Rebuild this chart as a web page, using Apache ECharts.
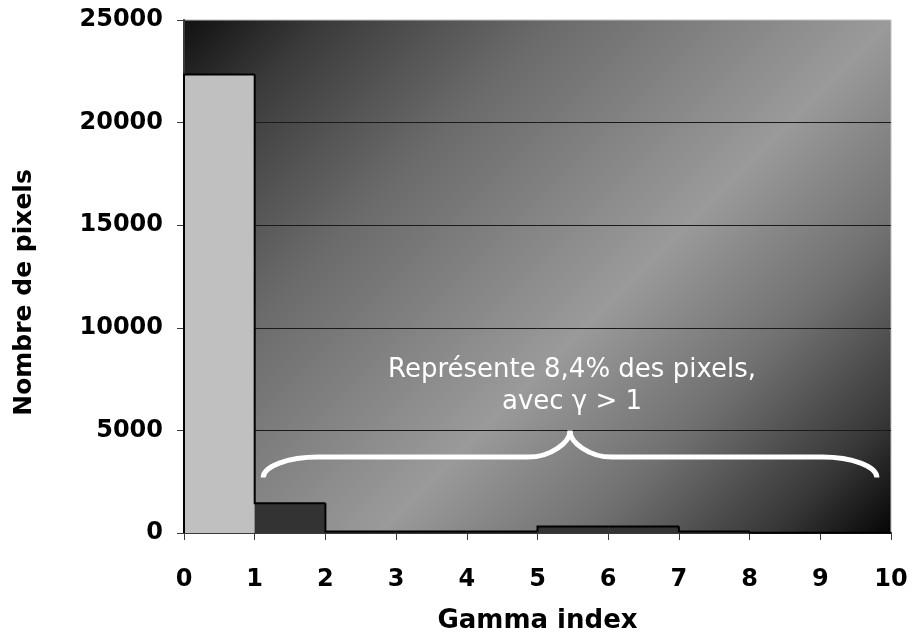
<!DOCTYPE html>
<html>
<head>
<meta charset="utf-8">
<script src="https://cdn.jsdelivr.net/npm/echarts@6/dist/echarts.min.js"></script>
<style>
  html, body { margin: 0; padding: 0; background: #fff; }
  #chart { width: 912px; height: 637px; }
</style>
</head>
<body>
<div id="chart"></div>
<script>
// Histogram of the gamma index: one bin per unit of gamma
const binStart = [0, 1, 2, 3, 4, 5, 6, 7, 8, 9];
const binEnd = [1, 2, 3, 4, 5, 6, 7, 8, 9, 10];
const pixelCount = [22350, 1450, 70, 70, 70, 320, 320, 70, 15, 15];

// Brace spanning the bins with gamma > 1 (data units)
const braceX = [1.12, 9.8];
const braceY = [2700, 3700, 5000];
const braceText = 'Représente 8,4% des pixels,\navec γ > 1';

const bins = binStart.map((s, i) => [s, binEnd[i], pixelCount[i]]);

const chart = echarts.init(document.getElementById('chart'), null, { renderer: 'canvas' });

const axisColor = '#3a3a3a';
const labelFont = { color: '#000', fontSize: 24, fontWeight: 'bold', fontFamily: 'DejaVu Sans' };
const nameFont = { color: '#000', fontSize: 25, fontWeight: 'bold', fontFamily: 'DejaVu Sans' };

chart.setOption({
  animation: false,
  backgroundColor: '#fff',
  grid: {
    left: 184, right: 21, top: 20, bottom: 104,
    outerBoundsMode: 'none',
    containLabel: false,
    show: true,
    borderColor: '#bdbdbd',
    borderWidth: 1,
    backgroundColor: {
      type: 'linear', x: 184, y: 20, x2: 794, y2: 630, global: true,
      colorStops: [
        { offset: 0, color: '#111111' },
        { offset: 0.12, color: '#3c3c3c' },
        { offset: 0.3, color: '#6a6a6a' },
        { offset: 0.58, color: '#9a9a9a' },
        { offset: 0.75, color: '#707070' },
        { offset: 0.9, color: '#383838' },
        { offset: 1, color: '#050505' }
      ]
    }
  },
  xAxis: {
    type: 'value', min: 0, max: 10, interval: 1,
    name: 'Gamma index', nameLocation: 'middle', nameGap: 75,
    nameTextStyle: Object.assign({}, nameFont, { fontSize: 26 }),
    axisLine: { show: true, lineStyle: { color: axisColor, width: 2 } },
    axisTick: { show: true, length: 7, lineStyle: { color: axisColor, width: 1 } },
    axisLabel: Object.assign({ margin: 35 }, labelFont),
    splitLine: { show: false }
  },
  yAxis: {
    type: 'value', min: 0, max: 25000, interval: 5000,
    name: 'Nombre de pixels', nameLocation: 'middle', nameGap: 147, nameRotate: 90,
    nameTextStyle: Object.assign({ padding: [0, 32, 0, 0] }, nameFont),
    axisLine: { show: true, lineStyle: { color: axisColor, width: 2 } },
    axisTick: { show: true, length: 7, lineStyle: { color: axisColor, width: 1 } },
    axisLabel: Object.assign({ margin: 21, formatter: v => String(v) }, labelFont),
    splitLine: { show: true, showMaxLine: false, showMinLine: false, lineStyle: { color: '#1a1a1a', width: 1 } }
  },
  series: [
    {
      // each bin: filled rectangle, outlined as one stepped contour
      type: 'custom',
      name: 'bins',
      clip: false,
      encode: { x: [0, 1], y: 2 },
      data: bins,
      renderItem: function (params, api) {
        const i = params.dataIndex;
        const top = api.coord([api.value(0), api.value(2)]);
        const base = api.coord([api.value(1), 0]);
        const prevY = i > 0 ? api.coord([0, pixelCount[i - 1]])[1] : base[1];
        const children = [
          {
            type: 'rect',
            shape: { x: top[0], y: top[1], width: base[0] - top[0], height: base[1] - top[1] },
            style: { fill: i === 0 ? '#c0c0c0' : '#333333' }
          },
          {
            type: 'polyline',
            shape: { points: [[top[0], prevY], [top[0], top[1]], [base[0], top[1]]] },
            style: { stroke: '#000', lineWidth: 2, fill: null }
          }
        ];
        if (i === pixelCount.length - 1) {
          children.push({
            type: 'line',
            shape: { x1: base[0], y1: top[1], x2: base[0], y2: base[1] },
            style: { stroke: '#000', lineWidth: 2 }
          });
        }
        return { type: 'group', children: children };
      }
    },
    {
      type: 'custom',
      name: 'brace',
      clip: false,
      silent: true,
      data: [[0]],
      renderItem: function (params, api) {
        const mid = (braceX[0] + braceX[1]) / 2;
        const tl = api.coord([braceX[0], braceY[0]]);
        const tr = api.coord([braceX[1], braceY[0]]);
        const pk = api.coord([mid, braceY[2]]);
        const ly = api.coord([mid, braceY[1]])[1];
        const endW = 55, cuspW = 42, k = 0.55;
        const f = v => v.toFixed(1);
        const d = [
          'M', f(tl[0]), f(tl[1]),
          'C', f(tl[0]), f(tl[1] - k * (tl[1] - ly)), f(tl[0] + endW - k * endW), f(ly), f(tl[0] + endW), f(ly),
          'L', f(pk[0] - cuspW), f(ly),
          'C', f(pk[0] - cuspW + k * cuspW), f(ly), f(pk[0]), f(ly - k * (ly - pk[1])), f(pk[0]), f(pk[1]),
          'C', f(pk[0]), f(ly - k * (ly - pk[1])), f(pk[0] + cuspW - k * cuspW), f(ly), f(pk[0] + cuspW), f(ly),
          'L', f(tr[0] - endW), f(ly),
          'C', f(tr[0] - endW + k * endW), f(ly), f(tr[0]), f(tr[1] - k * (tr[1] - ly)), f(tr[0]), f(tr[1])
        ].join(' ');
        return {
          type: 'group',
          children: [
            {
              type: 'path',
              shape: { pathData: d },
              style: { fill: 'none', stroke: '#ffffff', lineWidth: 5, lineCap: 'butt' }
            },
            {
              type: 'text',
              style: {
                text: braceText,
                x: pk[0] + 2, y: pk[1] - 12,
                align: 'center', verticalAlign: 'bottom',
                fill: '#ffffff', fontSize: 26, fontFamily: 'DejaVu Sans',
                lineHeight: 32
              }
            }
          ]
        };
      }
    }
  ]
});
</script>
</body>
</html>
